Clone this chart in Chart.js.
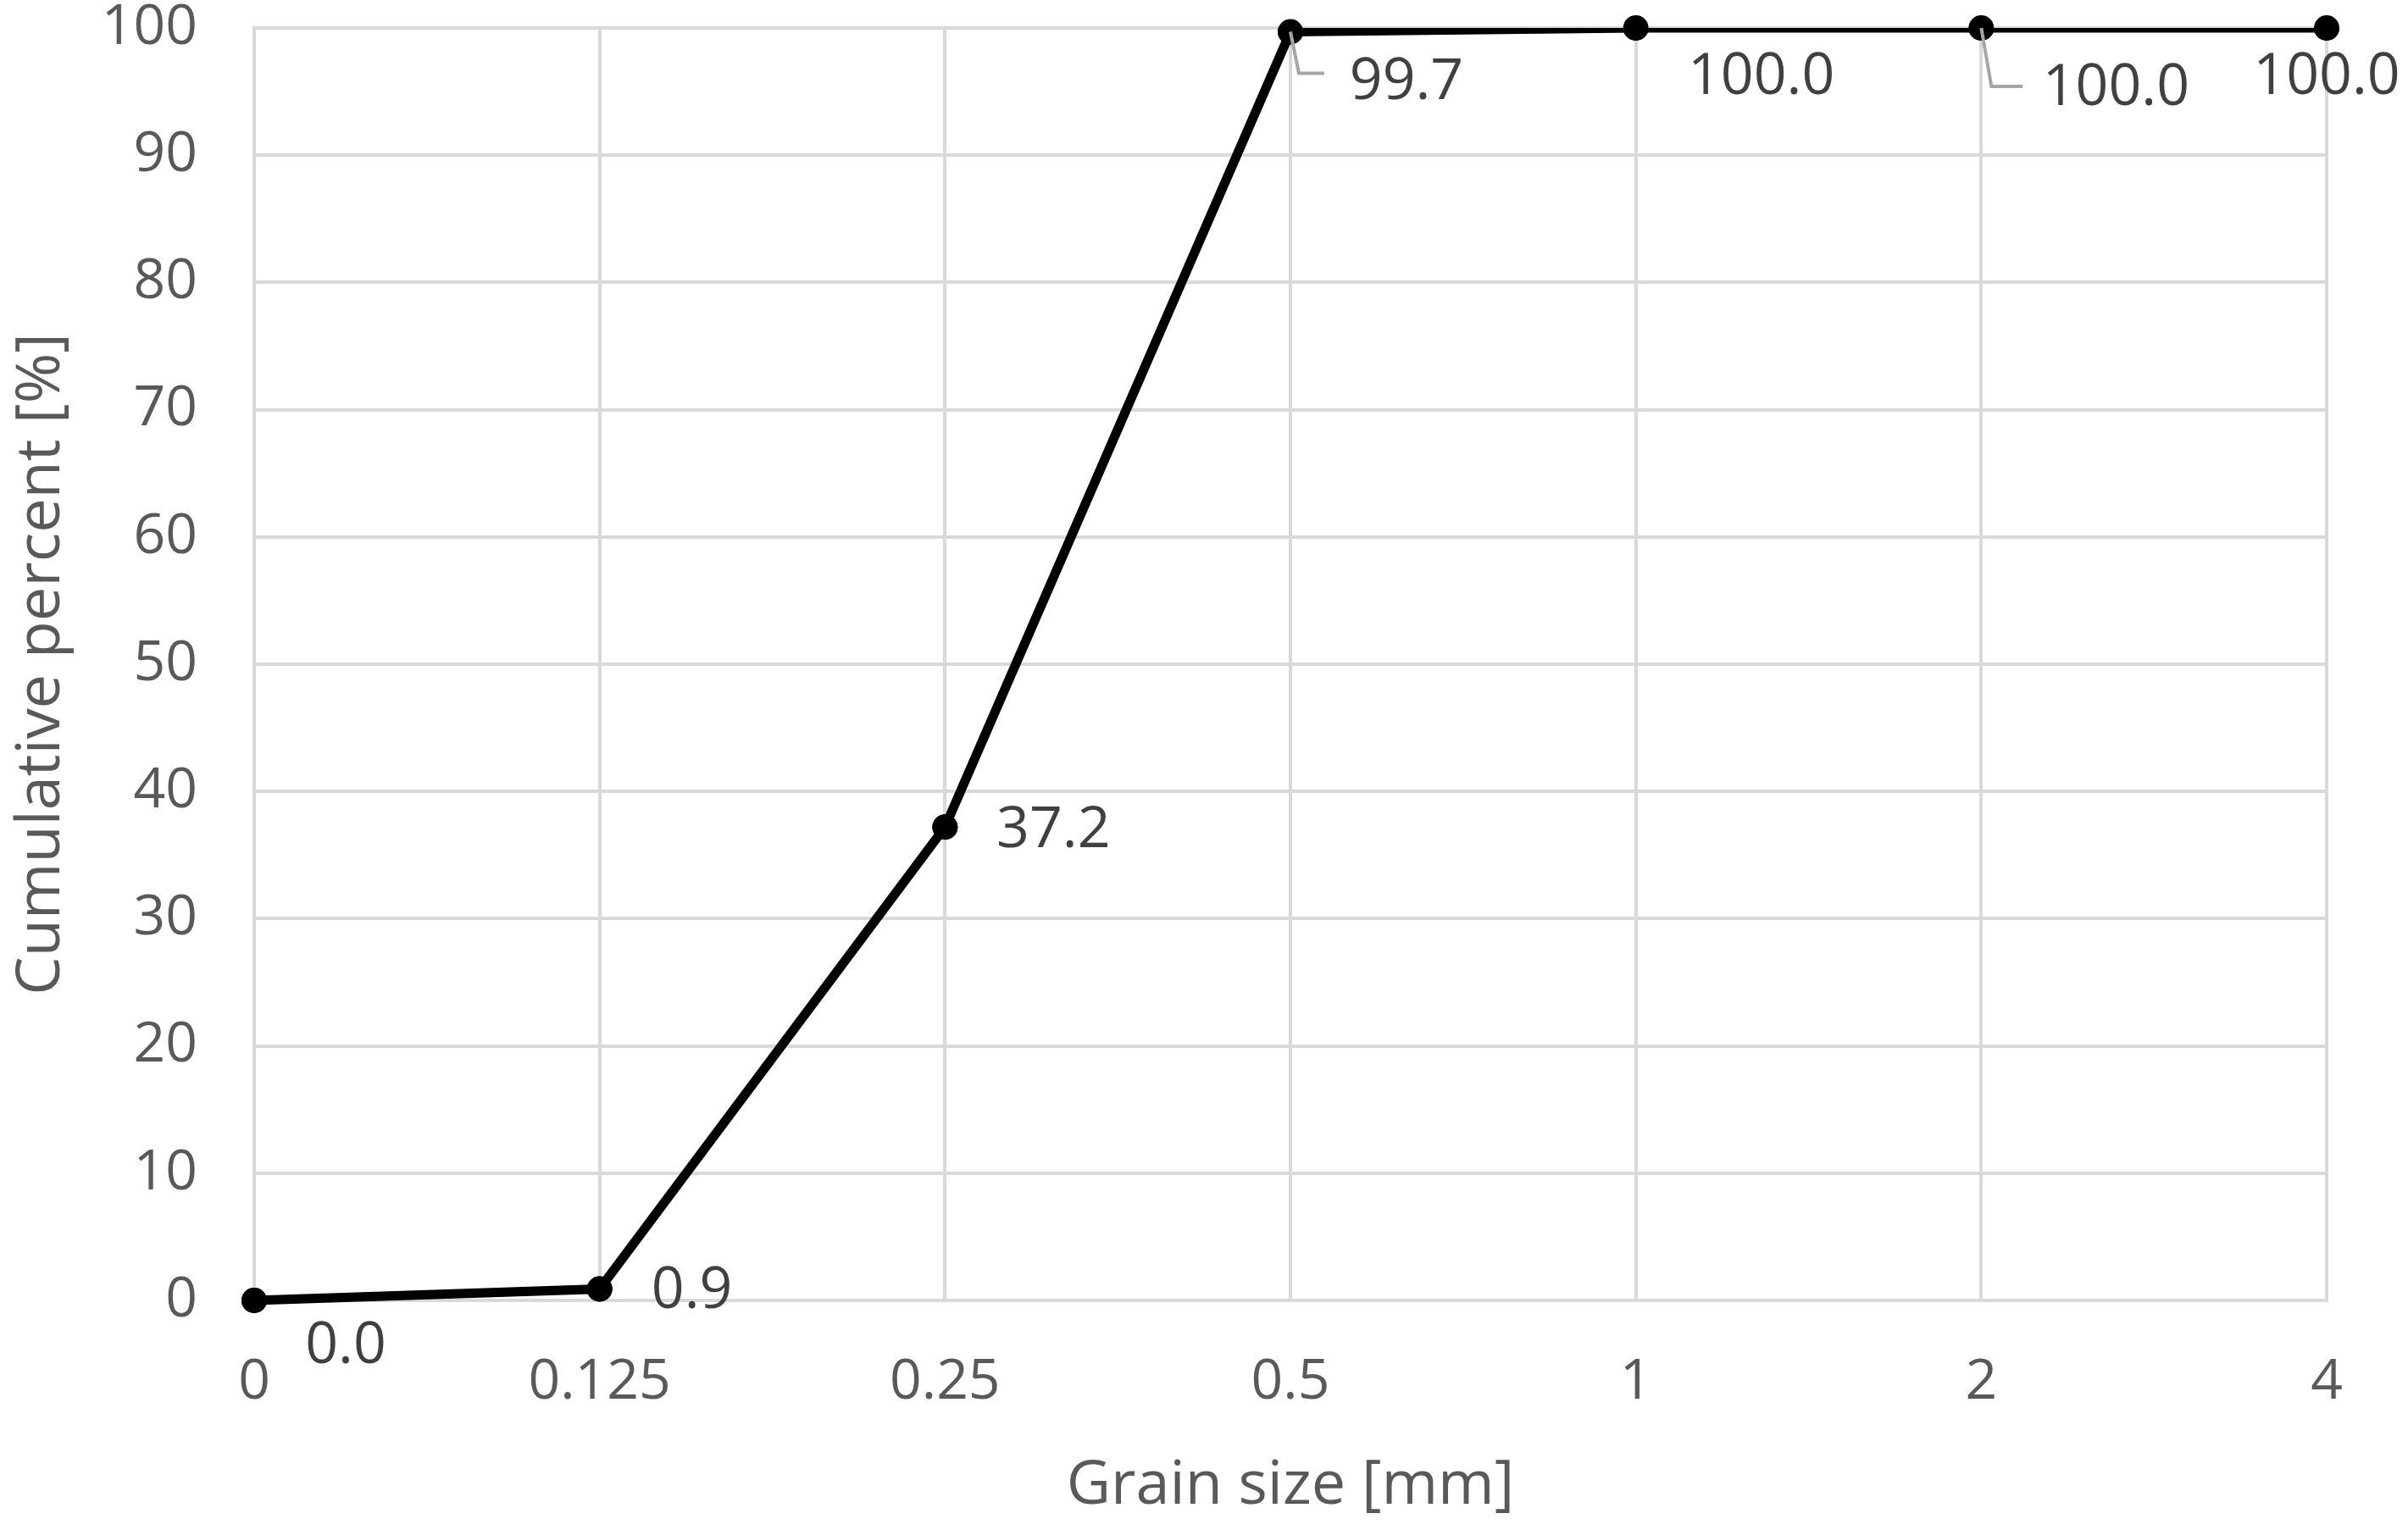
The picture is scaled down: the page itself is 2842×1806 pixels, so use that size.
<!DOCTYPE html>
<html>
<head>
<meta charset="utf-8">
<script src="https://cdn.jsdelivr.net/npm/chart.js@4.4.1/dist/chart.umd.min.js"></script>
<style>
  html, body { margin: 0; padding: 0; background: #ffffff; }
  #wrap { width: 2842px; height: 1806px; }
</style>
</head>
<body>
<div id="wrap"><canvas id="c" width="2842" height="1806"></canvas></div>
<script>
// ---- data ----
const grainSizes = ['0', '0.125', '0.25', '0.5', '1', '2', '4'];
const cumulativePercent = [0, 0.9, 37.2, 99.7, 100.0, 100.0, 100.0];
const yMin = 0;
const yMax = 100;
const yStep = 10;
const xTitle = 'Grain size [mm]';
const yTitle = 'Cumulative percent [%]';

// ---- styling ----
const FONT = "'Open Sans', 'DejaVu Sans', sans-serif";
const WEIGHT = '400';
const tickColor = '#595959';
const labelColor = '#404040';
const gridColor = '#d9d9d9';

// label placement relative to each point (pixels)
const labelPlacement = [
  { dx: 108, dy: 55 },
  { dx: 109, dy: 3 },
  { dx: 128, dy: 4 },
  { dx: 137, dy: 60, leader: [[10, 49], [40, 49]] },
  { dx: 148, dy: 59 },
  { dx: 159, dy: 72, leader: [[12, 69], [49, 69]] },
  { dx: 0, dy: 59 }
];

const dataLabelPlugin = {
  id: 'dataLabels',
  afterDatasetsDraw(chart) {
    const ctx = chart.ctx;
    const meta = chart.getDatasetMeta(0);
    const ds = chart.data.datasets[0];
    ctx.save();
    // redraw markers unclipped (line itself is clipped to the plot area)
    meta.data.forEach(pt => pt.draw(ctx));
    meta.data.forEach((pt, i) => {
      const p = labelPlacement[i];
      if (!p) return;
      if (p.leader) {
        ctx.strokeStyle = '#a6a6a6';
        ctx.lineWidth = 4;
        ctx.lineJoin = 'miter';
        ctx.beginPath();
        ctx.moveTo(pt.x, pt.y);
        p.leader.forEach(([lx, ly]) => ctx.lineTo(pt.x + lx, pt.y + ly));
        ctx.stroke();
      }
      ctx.fillStyle = labelColor;
      ctx.font = WEIGHT + ' 68px ' + FONT;
      ctx.textAlign = 'center';
      ctx.textBaseline = 'middle';
      ctx.fillText(Number(ds.data[i]).toFixed(1), pt.x + p.dx, pt.y + p.dy);
    });
    ctx.restore();
  }
};

new Chart(document.getElementById('c'), {
  type: 'line',
  data: {
    labels: grainSizes,
    datasets: [{
      data: cumulativePercent,
      borderColor: '#000000',
      backgroundColor: '#000000',
      borderWidth: 11,
      pointRadius: 15,
      pointBackgroundColor: '#000000',
      pointBorderWidth: 0,
      tension: 0,
      clip: { left: 40, top: 0, right: 40, bottom: 40 }
    }]
  },
  options: {
    responsive: false,
    animation: false,
    devicePixelRatio: 1,
    layout: { padding: { top: 33, right: 96, left: 0, bottom: 0 } },
    plugins: {
      legend: { display: false },
      tooltip: { enabled: false },
      title: { display: false }
    },
    scales: {
      x: {
        type: 'category',
        offset: false,
        grid: { color: gridColor, lineWidth: 4, drawTicks: false },
        border: { color: gridColor, width: 4 },
        ticks: {
          color: tickColor,
          font: { family: FONT, size: 66, weight: WEIGHT, lineHeight: 1.2 },
          padding: 58,
          maxRotation: 0,
          autoSkip: false
        },
        title: {
          display: true,
          text: xTitle,
          color: tickColor,
          font: { family: FONT, size: 72, weight: WEIGHT, lineHeight: 1.2 },
          padding: { top: 0, bottom: 8 }
        },
        afterFit(scale) {
          scale.height = 271;
          scale.paddingLeft = 0;
          scale.paddingRight = 0;
        }
      },
      y: {
        min: yMin,
        max: yMax,
        grid: { color: gridColor, lineWidth: 4, drawTicks: false },
        border: { color: gridColor, width: 4 },
        ticks: {
          stepSize: yStep,
          color: tickColor,
          font: { family: FONT, size: 66, weight: WEIGHT, lineHeight: 1.0 },
          padding: 67
        },
        title: {
          display: true,
          text: yTitle,
          color: tickColor,
          font: { family: FONT, size: 72, weight: WEIGHT, lineHeight: 1.2 },
          padding: { top: 6, bottom: 0 }
        },
        afterFit(scale) {
          scale.width = 300;
          scale.paddingTop = 0;
          scale.paddingBottom = 0;
        }
      }
    }
  },
  plugins: [dataLabelPlugin]
});
</script>
</body>
</html>
